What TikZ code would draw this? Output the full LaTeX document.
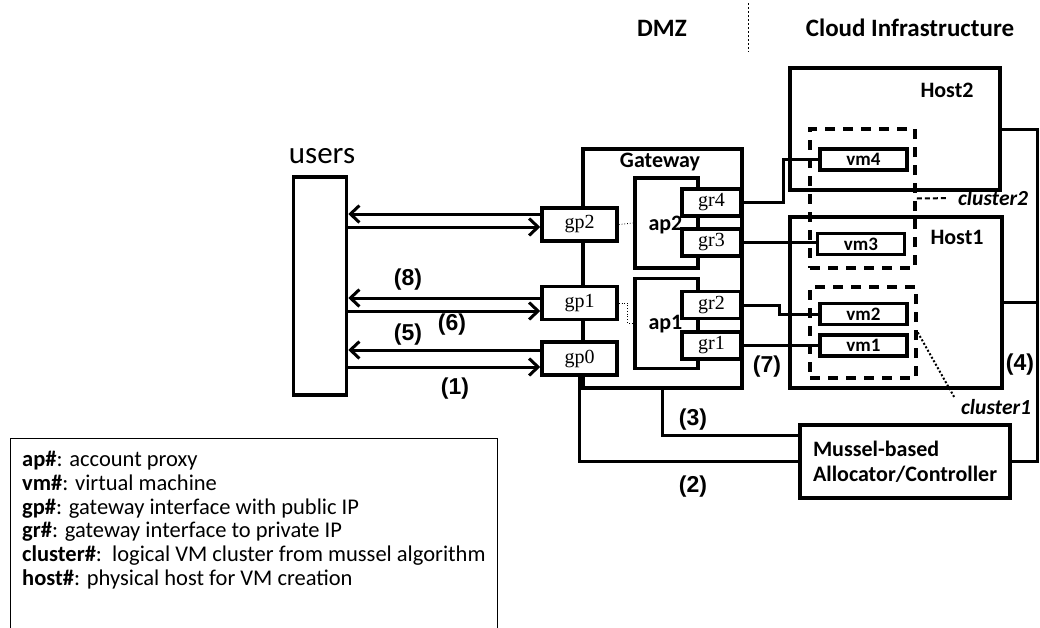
\documentclass[tikz,border=0pt]{standalone}
\usepackage{fontspec}
\setmainfont{Carlito}
\newfontfamily\portfont{Liberation Serif}
\newfontfamily\stepfont{Liberation Sans}
\usetikzlibrary{arrows.meta,calc}
\tikzset{
  unit/.style={draw, line width=3.5pt, fill=white, inner sep=0pt},
  portbox/.style={unit, minimum width=75pt, minimum height=33pt, font=\portfont\fontsize{20}{20}\selectfont},
  privbox/.style={unit, minimum width=59pt, minimum height=27pt, font=\portfont\fontsize{20}{20}\selectfont},
  proxybox/.style={unit, minimum width=63pt, minimum height=90pt},
  vmbox/.style={unit, minimum width=87pt, minimum height=21pt, font=\bfseries\fontsize{19}{19}\selectfont},
  clusterbox/.style={draw, line width=3.5pt, dash pattern=on 10pt off 8pt, inner sep=0pt},
  wire/.style={line width=3pt},
  userarrow/.style={line width=3pt, -{Straight Barb[length=9pt,width=17pt]}},
  boxtitle/.style={font=\bfseries\fontsize{22}{22}\selectfont},
  zonetitle/.style={font=\bfseries\fontsize{25}{25}\selectfont},
  steplabel/.style={font=\stepfont\bfseries\fontsize{23}{23}\selectfont},
  clusterlabel/.style={font=\bfseries\itshape\fontsize{21.5}{21.5}\selectfont, inner sep=1pt},
  hint/.style={line width=0.8pt, dotted}
}
\newcommand{\userLink}[3]{%
  % #1 gp node, #2 shift of the returning arrow, #3 shift of the outgoing arrow
  \coordinate (#1back) at ([yshift=#2pt]#1.west);
  \coordinate (#1out) at ([yshift=#3pt]#1.west);
  \draw[userarrow] (#1back) -- (#1back -| users.east);
  \draw[userarrow] (#1out -| users.east) -- (#1out);
}

\begin{document}
\begin{tikzpicture}[x=1pt, y=-1pt]
  \useasboundingbox (0,0) rectangle (1040,627);
  % zones
  \node[zonetitle] (dmz) at (662,28) {DMZ};
  \node[zonetitle] (cloud) at (910,28) {Cloud Infrastructure};
  \draw[line width=1pt, dash pattern=on 2pt off 2pt] (748,3) -- (748,52);
  % users
  \node[unit, minimum width=53pt, minimum height=218pt] (users) at (320,286) {};
  \node[font=\fontsize{31}{31}\selectfont] (userslbl) at (322,156) {users};
  % gateway
  \node[unit, minimum width=159pt, minimum height=239pt] (gw) at (662.5,268.5) {};
  \node[boxtitle] (gwlbl) at (660,162) {Gateway};
  \node[proxybox] (ap2) at (666.5,223) {};
  \node[proxybox] (ap1) at (666.5,323.5) {};
  \node[boxtitle, anchor=west] (ap2lbl) at (645,225) {ap2};
  \node[boxtitle, anchor=west] (ap1lbl) at (645,324) {ap1};
  \node[privbox] (gr4) at (711.5,202.5) {gr4};
  \node[privbox] (gr3) at (711.5,242.5) {gr3};
  \node[privbox] (gr2) at (711.5,305) {gr2};
  \node[privbox] (gr1) at (711.5,345.5) {gr1};
  \node[portbox] (gp2) at (579.5,224.5) {gp2};
  \node[portbox] (gp1) at (579.5,303) {gp1};
  \node[portbox] (gp0) at (579.5,358.5) {gp0};
  \draw[hint] (gp2.east) -- (ap2.west);
  \draw[hint] (gp1.east) -- ++(9,0) |- (ap1.west);
  % hosts and clusters
  \node[unit, minimum width=210pt, minimum height=122pt] (host2) at (895,129) {};
  \node[boxtitle] (host2lbl) at (947,90) {Host2};
  \node[unit, minimum width=212pt, minimum height=171pt] (host1) at (896,302.5) {};
  \node[boxtitle] (host1lbl) at (957,237) {Host1};
  \node[clusterbox, minimum width=105pt, minimum height=139pt] (cl2) at (862.5,198.5) {};
  \node[clusterbox, minimum width=106pt, minimum height=91pt] (cl1) at (863,332.5) {};
  \node[vmbox] (vm4) at (863.5,159.5) {vm4};
  \node[vmbox] (vm3) at (861,244) {vm3};
  \node[vmbox] (vm2) at (863.5,314) {vm2};
  \node[vmbox] (vm1) at (863.5,345.5) {vm1};
  \node[clusterlabel] (cl2lbl) at (993,198) {cluster2};
  \node[clusterlabel] (cl1lbl) at (996,407) {cluster1};
  \draw[line width=2pt, dash pattern=on 5pt off 3pt, shorten >=10pt] (cl2.east) -- (cl2lbl.west);
  \draw[line width=2pt, dotted, shorten >=10pt] (cl1.east) -- (cl1lbl.west);
  % allocator
  \node[unit, minimum width=210pt, minimum height=73pt, align=left,
        font=\bfseries\fontsize{22}{25}\selectfont] (ctrl) at (905,461.5) {Mussel-based\\Allocator/Controller};
  % links
  \userLink{gp2}{10.5}{-2.5}
  \userLink{gp1}{5}{-8}
  \userLink{gp0}{8.5}{-8.5}
  \draw[wire] (gr4.east) -- ++(41,0) |- (vm4.west);
  \draw[wire] (gr3.east) -- (gr3.east -| vm3.west);
  \draw[wire] (gr2.east) -- ++(37,0) |- (vm2.west);
  \draw[wire] (gr1.east) -- ++(37,0) |- (vm1.west);
  \draw[wire] (gp0.south) |- (ctrl.west);
  \coordinate (ctrlin) at ([yshift=-12pt]ctrl.north west);
  \draw[wire] (gw.south) |- (ctrlin);
  \coordinate (bus) at (1037,129);
  \draw[wire] (host2.east) -- (bus) |- (ctrl.east);
  \draw[wire] (host1.east) -- (host1.east -| bus);
  % steps
  \node[steplabel] (s8) at (408,280) {(8)};
  \node[steplabel] (s6) at (452,325) {(6)};
  \node[steplabel] (s5) at (408,335) {(5)};
  \node[steplabel] (s1) at (455,389) {(1)};
  \node[steplabel] (s3) at (693,420) {(3)};
  \node[steplabel] (s2) at (693,487) {(2)};
  \node[steplabel] (s7) at (767,367) {(7)};
  \node[steplabel] (s4) at (1020,365) {(4)};
  % legend
  \node[draw, line width=1pt, minimum width=487pt, minimum height=210pt, anchor=north west, inner sep=0pt] (keybox) at (10,438) {};
  \node[anchor=north west, align=left, inner sep=0pt, font=\fontsize{22.5}{23.8}\selectfont] (key) at (22,451)
    {\textbf{ap\#}: account proxy\\
     \textbf{vm\#}: virtual machine\\
     \textbf{gp\#}: gateway interface with public IP\\
     \textbf{gr\#}: gateway interface to private IP\\
     \textbf{cluster\#}:\ \ logical VM cluster from mussel algorithm\\
     \textbf{host\#}: physical host for VM creation};
\end{tikzpicture}
\end{document}
